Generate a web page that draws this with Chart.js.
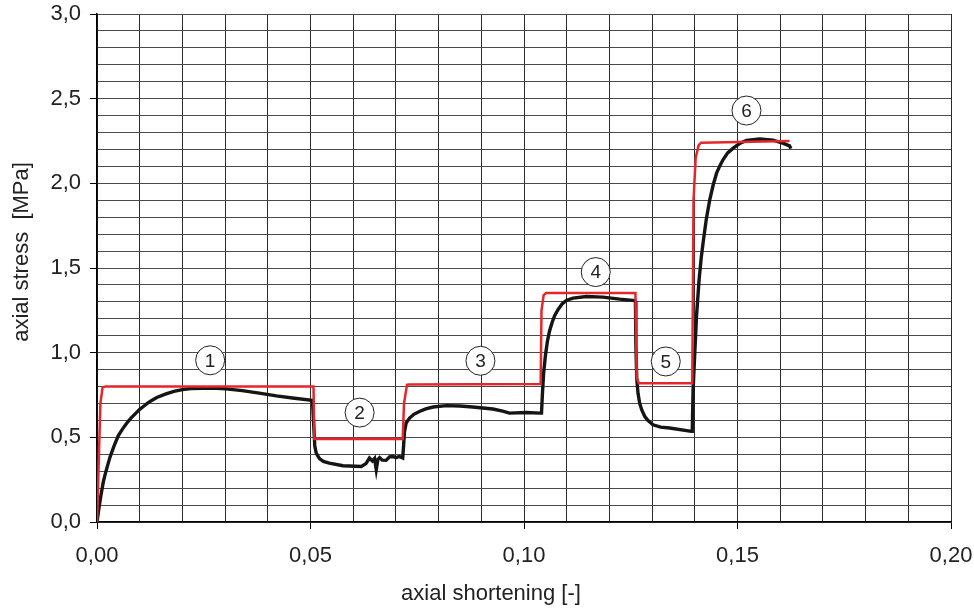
<!DOCTYPE html>
<html>
<head>
<meta charset="utf-8">
<script src="https://cdn.jsdelivr.net/npm/chart.js@4/dist/chart.umd.min.js"></script>
<style>
  html, body { margin: 0; padding: 0; background: #ffffff; }
  #wrap { width: 974px; height: 610px; }
</style>
</head>
<body>
<div id="wrap"><canvas id="c" width="974" height="610"></canvas></div>
<script>
// measured curve (black)
const measuredX = [0, 0.0005, 0.001, 0.0015, 0.002, 0.003, 0.004, 0.005, 0.006, 0.007, 0.008, 0.009, 0.010, 0.011, 0.012, 0.013, 0.014, 0.016, 0.018, 0.020, 0.022, 0.025, 0.028, 0.0302, 0.034, 0.038, 0.042, 0.0458, 0.0503,
  0.0505, 0.0508, 0.0510, 0.0513, 0.0517, 0.0521, 0.0530, 0.0544, 0.0576, 0.0619, 0.063, 0.0638, 0.0645, 0.065, 0.0654, 0.0658, 0.0662, 0.0668, 0.0677, 0.0685, 0.0693, 0.070, 0.0708, 0.0716,
  0.0718, 0.0720, 0.0724, 0.0732, 0.0742, 0.0755, 0.077, 0.0787, 0.0818, 0.085, 0.088, 0.0927, 0.095, 0.0966, 0.1005, 0.1038,
  0.1041, 0.1043, 0.1046, 0.1050, 0.1055, 0.1060, 0.1066, 0.1072, 0.108, 0.109, 0.110, 0.1115, 0.1146, 0.1185, 0.1224, 0.1259,
  0.1261, 0.1262, 0.1264, 0.1267, 0.1271, 0.1276, 0.1283, 0.129, 0.1302, 0.132, 0.1341, 0.1392,
  0.1394, 0.1396, 0.1400, 0.1404, 0.1410, 0.1415, 0.1420, 0.1427, 0.1435, 0.1443, 0.1451, 0.1458, 0.1466, 0.1477, 0.149, 0.1505, 0.1521, 0.1552, 0.1583, 0.1606, 0.1622, 0.1625];
const measuredY = [0, 0.09, 0.17, 0.24, 0.29, 0.38, 0.45, 0.51, 0.55, 0.585, 0.615, 0.64, 0.665, 0.685, 0.705, 0.72, 0.735, 0.755, 0.772, 0.782, 0.788, 0.79, 0.789, 0.786, 0.776, 0.761, 0.745, 0.732, 0.718,
  0.70, 0.55, 0.45, 0.41, 0.39, 0.375, 0.358, 0.348, 0.332, 0.328, 0.345, 0.378, 0.36, 0.375, 0.309, 0.37, 0.38, 0.365, 0.364, 0.385, 0.387, 0.38, 0.387, 0.378,
  0.45, 0.53, 0.585, 0.614, 0.636, 0.653, 0.668, 0.679, 0.687, 0.685, 0.679, 0.667, 0.655, 0.643, 0.647, 0.643,
  0.643, 0.75, 0.88, 0.98, 1.07, 1.13, 1.18, 1.22, 1.255, 1.29, 1.31, 1.322, 1.332, 1.328, 1.316, 1.308,
  1.30, 1.05, 0.85, 0.76, 0.70, 0.66, 0.623, 0.60, 0.574, 0.56, 0.555, 0.535,
  0.535, 0.78, 1.0, 1.214, 1.43, 1.56, 1.66, 1.79, 1.903, 1.99, 2.06, 2.10, 2.139, 2.18, 2.208, 2.235, 2.253, 2.262, 2.255, 2.237, 2.221, 2.205];

// target (red) curve
const targetX = [0, 0.0008, 0.0013, 0.0020, 0.0507, 0.0509, 0.0716, 0.0719, 0.0726, 0.0730, 0.1039, 0.1041, 0.1046, 0.1052, 0.1261, 0.1264, 0.1269, 0.1394, 0.1397, 0.1402, 0.1409, 0.1415, 0.1622];
const targetY = [0, 0.70, 0.795, 0.80, 0.80, 0.49, 0.49, 0.70, 0.81, 0.812, 0.815, 1.25, 1.34, 1.352, 1.352, 0.85, 0.82, 0.82, 1.90, 2.15, 2.225, 2.24, 2.25];

// circled stage numbers
const stageLabels = ['1', '2', '3', '4', '5', '6'];
const stageX = [0.0265, 0.0615, 0.0898, 0.1168, 0.1332, 0.1521];
const stageY = [0.955, 0.646, 0.952, 1.476, 0.948, 2.43];

const xTitle = 'axial shortening [-]';
const yTitle = 'axial stress  [MPa]';

const xMin = 0, xMax = 0.20, xStep = 0.01;
const yMin = 0, yMax = 3.0, yStep = 0.1;

const FONT = "'Liberation Sans', Arial, Helvetica, sans-serif";

const toPts = (xs, ys) => xs.map((x, i) => ({ x: x, y: ys[i] }));
const isMult = (v, m) => Math.abs(v / m - Math.round(v / m)) < 1e-6;

const stagePlugin = {
  id: 'stages',
  afterDatasetsDraw(chart) {
    const ctx = chart.ctx;
    const xs = chart.scales.x, ys = chart.scales.y;
    ctx.save();
    for (let i = 0; i < stageLabels.length; i++) {
      const px = xs.getPixelForValue(stageX[i]);
      const py = ys.getPixelForValue(stageY[i]);
      ctx.beginPath();
      ctx.arc(px, py, 14.5, 0, Math.PI * 2);
      ctx.fillStyle = '#ffffff';
      ctx.fill();
      ctx.lineWidth = 1;
      ctx.strokeStyle = '#222';
      ctx.stroke();
      ctx.fillStyle = '#222';
      ctx.font = '19px ' + FONT;
      ctx.textAlign = 'center';
      ctx.textBaseline = 'middle';
      ctx.fillText(stageLabels[i], px, py + 1);
    }
    ctx.restore();
  },
  afterDraw(chart) {
    const ctx = chart.ctx;
    ctx.save();
    ctx.fillStyle = '#222';
    ctx.font = '22px ' + FONT;
    ctx.textAlign = 'center';
    ctx.textBaseline = 'middle';
    ctx.fillText(xTitle, 491, 594);
    ctx.translate(22, 252);
    ctx.rotate(-Math.PI / 2);
    ctx.fillText(yTitle, 0, 0);
    ctx.restore();
  }
};

new Chart(document.getElementById('c'), {
  type: 'scatter',
  data: {
    datasets: [
      {
        label: 'measured',
        data: toPts(measuredX, measuredY),
        showLine: true,
        borderColor: '#151515',
        borderWidth: 3.4,
        pointRadius: 0,
        tension: 0,
        order: 2
      },
      {
        label: 'target',
        data: toPts(targetX, targetY),
        showLine: true,
        borderColor: '#e5262b',
        borderWidth: 2.5,
        pointRadius: 0,
        tension: 0,
        order: 1
      }
    ]
  },
  options: {
    responsive: false,
    animation: false,
    devicePixelRatio: 1,
    layout: { padding: { left: 0, right: 23, top: 14, bottom: 0 } },
    plugins: { legend: { display: false }, tooltip: { enabled: false } },
    scales: {
      x: {
        type: 'linear',
        min: xMin, max: xMax,
        afterFit(s) { s.height = 88; s.paddingLeft = 0; s.paddingRight = 0; },
        border: { color: '#000', width: 1.5 },
        grid: {
          color: '#2b2b2b',
          lineWidth: 1,
          tickLength: 7,
          tickColor: (c) => (c.tick && isMult(c.tick.value, 0.05)) ? '#000' : 'rgba(0,0,0,0)'
        },
        ticks: {
          stepSize: xStep,
          autoSkip: false,
          maxRotation: 0,
          padding: 14,
          color: '#222',
          font: { family: FONT, size: 22 },
          callback: (v) => isMult(v, 0.05) ? v.toFixed(2).replace('.', ',') : ''
        },
        title: { display: false }
      },
      y: {
        type: 'linear',
        min: yMin, max: yMax,
        afterFit(s) { s.width = 97; s.paddingTop = 0; s.paddingBottom = 0; },
        border: { color: '#000', width: 1.5 },
        grid: {
          color: '#4a4a4a',
          lineWidth: 1,
          tickLength: 7,
          tickColor: (c) => (c.tick && isMult(c.tick.value, 0.5)) ? '#000' : 'rgba(0,0,0,0)'
        },
        ticks: {
          stepSize: yStep,
          autoSkip: false,
          padding: 9,
          color: '#222',
          font: { family: FONT, size: 22 },
          callback: (v) => isMult(v, 0.5) ? v.toFixed(1).replace('.', ',') : ''
        },
        title: { display: false }
      }
    }
  },
  plugins: [stagePlugin]
});
</script>
</body>
</html>
